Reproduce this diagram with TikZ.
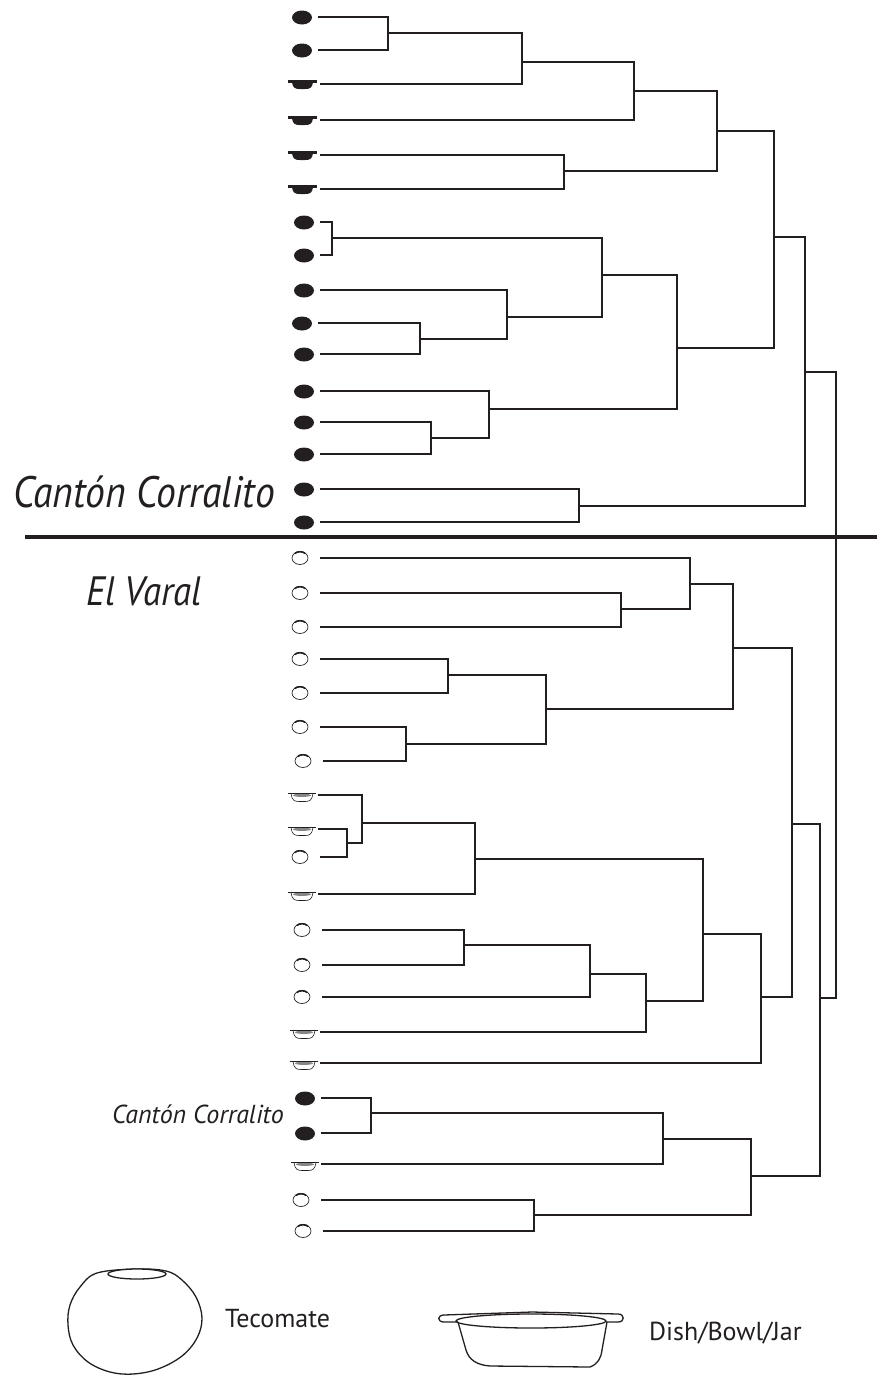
\documentclass[tikz,border=0pt]{standalone}
\usepackage{fontspec}
\setmainfont{PT Sans}
\newfontfamily\sitefont[FakeStretch=0.9]{PT Sans}
\definecolor{ink}{RGB}{35,31,32}

\begin{document}
\begin{tikzpicture}[x=1pt,y=-1pt,
  link/.style={draw=ink,line width=1.7pt},
  sitelabel/.style={inner sep=0pt,text=ink,font=\itshape},
  legendtext/.style={inner sep=0pt,text=ink,font=\fontsize{26}{30}\selectfont},
  % leaf markers, drawn to the left of a leaf coordinate
  tecoB/.pic={\fill[ink] (-16,0.5) ellipse [x radius=10,y radius=7];},
  tecoW/.pic={
    \draw[ink,line width=0.7pt] (-20,0) ellipse [x radius=8,y radius=6.5];
    \draw[ink,line width=1.6pt] (-25,-4.6) .. controls (-23,-6.8) and (-17,-6.8) .. (-15,-4.6);},
  dishB/.pic={
    \fill[ink] (-32,-4) rectangle (-3,-1.2);
    \fill[ink] (-28,-1.5) .. controls (-27,4) and (-25,5) .. (-20,5) -- (-15,5)
      .. controls (-10,5) and (-8,4) .. (-7,-1.5) -- cycle;},
  dishW/.pic={
    \draw[ink,line width=0.6pt,fill=white] (-27,-1.5) .. controls (-26,5) and (-24,6.5) .. (-19,6.5)
      -- (-13,6.5) .. controls (-8,6.5) and (-6,5) .. (-5,-1.5);
    \fill[ink!55] (-16,0.3) ellipse [x radius=9,y radius=1.6];
    \draw[ink,line width=1.4pt] (-30,-1.6) -- (-2,-1.6);},
]
\useasboundingbox (0,0) rectangle (877,1376);

% ---------- leaves: Cantón Corralito block ----------
\coordinate (T1) at (318,17);   \coordinate (T2) at (318,50);
\coordinate (T3) at (320,84);   \coordinate (T4) at (320,120);
\coordinate (T5) at (320,155);  \coordinate (T6) at (320,189);
\coordinate (T7) at (320,222);  \coordinate (T8) at (320,255);
\coordinate (T9) at (320,290);  \coordinate (T10) at (318,323);
\coordinate (T11) at (320,354); \coordinate (T12) at (320,391);
\coordinate (T13) at (320,422); \coordinate (T14) at (320,454);
\coordinate (T15) at (320,489); \coordinate (T16) at (320,522);

% ---------- leaves: El Varal block ----------
\coordinate (V1) at (320,558);  \coordinate (V2) at (320,593);
\coordinate (V3) at (320,627);  \coordinate (V4) at (320,659);
\coordinate (V5) at (320,693);  \coordinate (V6) at (320,727);
\coordinate (V7) at (323,761);  \coordinate (V8) at (318,795);
\coordinate (V9) at (318,829);  \coordinate (V10) at (320,857);
\coordinate (V11) at (318,894); \coordinate (V12) at (322,930);
\coordinate (V13) at (322,965); \coordinate (V14) at (322,997);
\coordinate (V15) at (320,1032);\coordinate (V16) at (320,1063);
\coordinate (V17) at (321,1098);\coordinate (V18) at (321,1133);
\coordinate (V19) at (321,1164);\coordinate (V20) at (321,1200);
\coordinate (V21) at (323,1231);

% ---------- internal joins ----------
\coordinate (a1) at (388,33);   \coordinate (a2) at (522,62);
\coordinate (a3) at (634,91);   \coordinate (a4) at (564,171);
\coordinate (a5) at (717,131);  \coordinate (b1) at (332,238);
\coordinate (b2) at (420,339);  \coordinate (b3) at (507,317);
\coordinate (b4) at (602,275);  \coordinate (c1) at (431,438);
\coordinate (c2) at (489,409);  \coordinate (b5) at (677,348);
\coordinate (a6) at (774,237);  \coordinate (d1) at (579,506);
\coordinate (a7) at (805,372);

\coordinate (e1) at (621,609);  \coordinate (e2) at (690,584);
\coordinate (e3) at (448,675);  \coordinate (e4) at (406,744);
\coordinate (e5) at (546,709);  \coordinate (e6) at (733,648);
\coordinate (f1) at (347,843);  \coordinate (f2) at (362,823);
\coordinate (f3) at (475,859);  \coordinate (g1) at (464,945);
\coordinate (g2) at (590,974);  \coordinate (g3) at (646,1001);
\coordinate (f4) at (703,934);  \coordinate (f5) at (761,997);
\coordinate (e7) at (792,824);  \coordinate (h1) at (371,1113);
\coordinate (h2) at (663,1139); \coordinate (h3) at (534,1215);
\coordinate (h4) at (751,1176); \coordinate (e8) at (820,998);
\coordinate (root) at (836,685);

% ---------- dendrogram brackets: child -| join |- child ----------
\foreach \j/\p/\q in {a1/T1/T2, a2/a1/T3, a3/a2/T4, a4/T5/T6, a5/a3/a4,
    b1/T7/T8, b2/T10/T11, b3/T9/b2, b4/b1/b3, c1/T13/T14, c2/T12/c1,
    b5/b4/c2, a6/a5/b5, d1/T15/T16, a7/a6/d1,
    e1/V2/V3, e2/V1/e1, e3/V4/V5, e4/V6/V7, e5/e3/e4, e6/e2/e5,
    f1/V9/V10, f2/V8/f1, f3/f2/V11, g1/V12/V13, g2/g1/V14, g3/g2/V15,
    f4/f3/g3, f5/f4/V16, e7/e6/f5, h1/V17/V18, h2/h1/V19, h3/V20/V21,
    h4/h2/h3, e8/e7/h4, root/a7/e8}
  \draw[link] (\p) -| (\j) |- (\q);

% ---------- leaf markers ----------
\foreach \l in {T1,T2,T7,T8,T9,T10,T11,T12,T13,T14,T15,T16,V17,V18}
  \pic at (\l) {tecoB};
\foreach \l in {T3,T4,T5,T6}
  \pic at (\l) {dishB};
\foreach \l in {V1,V2,V3,V4,V5,V6,V7,V10,V12,V13,V14,V20,V21}
  \pic at (\l) {tecoW};
\foreach \l in {V8,V9,V11,V15,V16,V19}
  \pic at (\l) {dishW};

% ---------- site divider ----------
\coordinate (sepL) at (25,537);
\coordinate (sepR) at (877,537);
\draw[ink,line width=4pt] (sepL) -- (sepR);

% ---------- site labels ----------
\node[sitelabel,font=\sitefont\itshape\fontsize{44}{50}\selectfont,anchor=base east] (cc) at (275,507) {Cantón Corralito};
\node[sitelabel,font=\sitefont\itshape\fontsize{41}{46}\selectfont,anchor=base west] (ev) at (86,605) {El Varal};
\node[sitelabel,font=\itshape\fontsize{26}{30}\selectfont,anchor=base east] (ccs) at (284,1123) {Cantón Corralito};

% ---------- legend: tecomate ----------
\draw[ink,line width=1.3pt] plot[smooth cycle,tension=0.6] coordinates {
  (97,1273) (80,1287) (70,1305) (68,1325) (73,1345) (88,1362) (110,1372)
  (133,1374) (158,1369) (182,1356) (197,1338) (202,1318) (196,1297)
  (182,1280) (166,1271) (136,1269)};
\draw[ink,line width=1.3pt,fill=white] (137,1274) ellipse [x radius=29,y radius=5];
\node[legendtext,anchor=base west] (lt) at (225,1327) {Tecomate};

% ---------- legend: dish / bowl / jar ----------
\draw[ink,line width=1.3pt,fill=white] (458,1322) -- (466,1350)
  .. controls (469,1360) and (477,1365) .. (490,1366) -- (590,1367)
  .. controls (598,1364) and (601,1358) .. (602,1350) -- (607,1322);
\draw[ink,line width=1.3pt] (458,1322) -- (444,1322)
  .. controls (437,1322) and (437,1315) .. (444,1315) -- (532,1312) -- (618,1314)
  .. controls (625,1314) and (625,1322) .. (618,1322) -- (606,1322);
\draw[ink,line width=1.3pt] (531,1321) ellipse [x radius=75,y radius=7];
\node[legendtext,anchor=base west] (ld) at (649,1340) {Dish/Bowl/Jar};
\end{tikzpicture}
\end{document}
